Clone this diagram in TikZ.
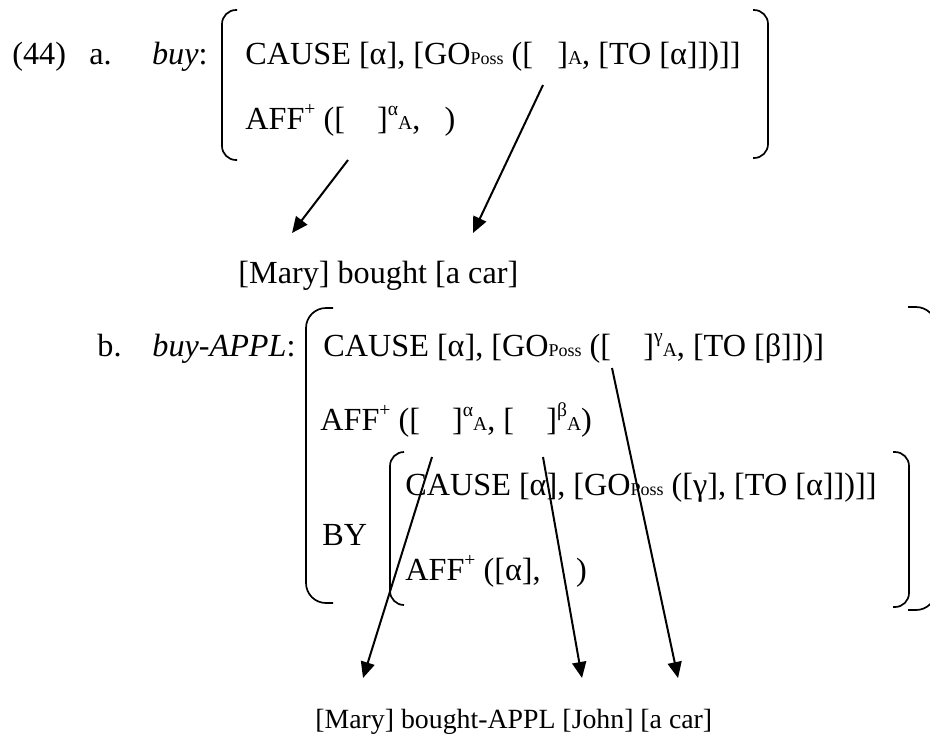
\documentclass[tikz,border=0pt]{standalone}
\usepackage{fontspec}
\setmainfont{Liberation Serif}
\usetikzlibrary{arrows.meta}
% small subscript "Poss", small A, raised index, empty slot
\newcommand{\possub}{{\fontsize{9pt}{9pt}\selectfont Poss}}
\newcommand{\asub}{{\fontsize{9.8pt}{9pt}\selectfont A}}
\newcommand{\upidx}[1]{\raisebox{0.42em}{\fontsize{9.8pt}{9pt}\selectfont #1}}
\newcommand{\slot}[1][1em]{\hspace{#1}}

\begin{document}
\begin{tikzpicture}[x=0.5pt,y=-0.5pt,
  txt/.style={anchor=base west,inner sep=0pt,font=\fontsize{16.1pt}{19pt}\selectfont},
  small/.style={anchor=base west,inner sep=0pt,font=\fontsize{13.9pt}{17pt}\selectfont},
  brk/.style={line width=0.85pt,rounded corners=7pt},
  bigbrk/.style={line width=0.85pt,rounded corners=10pt},
  arr/.style={line width=1pt,-{Triangle[length=8pt,width=7pt]}}]
\clip (0,0) rectangle (930,735);
\useasboundingbox (0,0) rectangle (930,735);

% (44a)
\node[txt] (n44) at (12,64) {(44)};
\node[txt] (la) at (89,64) {a.};
\node[txt,anchor=base east] (buy) at (208,64) {\textit{buy}:};
\node[txt] (a1) at (245,64) {CAUSE [α], [GO\possub{} ([\slot[0.75em]]\asub, [TO [α]])]]};
\node[txt] (a2) at (245,129) {AFF\upidx{+} ([\slot]\upidx{α}\asub, \slot[0.5em])};
\draw[brk] (237,10) -| (222,160) -- (237,160);
\draw[brk] (753,10) -| (768,158) -- (753,158);
\node[txt] (sa) at (238,283) {[Mary] bought [a car]};

\coordinate (sA1) at (348,160);
\coordinate (tA1) at (292,233);
\coordinate (sA2) at (543,85);
\coordinate (tA2) at (473,233);
\draw[arr] (sA1) -- (tA1);
\draw[arr] (sA2) -- (tA2);

% (44b)
\node[txt] (lb) at (97,356) {b.};
\node[txt] (bap) at (152,356) {\textit{buy-APPL}:};
\node[txt] (b1) at (323,356) {CAUSE [α], [GO\possub{} ([\slot]\upidx{γ}\asub, [TO [β]])]};
\node[txt] (b2) at (320,430) {AFF\upidx{+} ([\slot]\upidx{α}\asub, [\slot]\upidx{β}\asub)};
\node[txt] (by) at (322,545) {BY};
\node[txt] (c1) at (405,495) {CAUSE [α], [GO\possub{} ([γ], [TO [α]])]]};
\node[txt] (c2) at (405,580) {AFF\upidx{+} ([α], \slot[0.85em])};
\draw[bigbrk] (333,308) -| (306,603) -- (333,603);
\draw[bigbrk] (908,307) -| (936,610) -- (908,610);
\draw[brk] (404,452) -| (390,605) -- (404,605);
\draw[brk] (893,452) -| (909,607) -- (893,607);
\node[small] (sb) at (315,728) {[Mary] bought-APPL [John] [a car]};

\coordinate (sB1) at (432,457);
\coordinate (tB1) at (363,678);
\coordinate (sB2) at (543,457);
\coordinate (tB2) at (582,678);
\coordinate (sB3) at (612,368);
\coordinate (tB3) at (678,678);
\draw[arr] (sB1) -- (tB1);
\draw[arr] (sB2) -- (tB2);
\draw[arr] (sB3) -- (tB3);
\end{tikzpicture}
\end{document}
